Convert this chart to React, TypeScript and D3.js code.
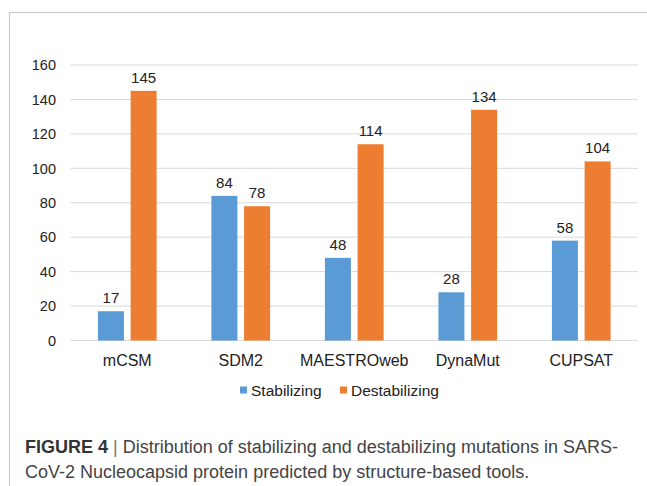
import React from "react";
import * as d3 from "d3";

const categories = ["mCSM", "SDM2", "MAESTROweb", "DynaMut", "CUPSAT"];
const stabilizing = [17, 84, 48, 28, 58];
const destabilizing = [145, 78, 114, 134, 104];
const seriesNames = ["Stabilizing", "Destabilizing"];
const yTicks = [0, 20, 40, 60, 80, 100, 120, 140, 160];
const captionBold = "FIGURE 4";
const captionLine1 = "Distribution of stabilizing and destabilizing mutations in SARS-";
const captionLine2 = "CoV-2 Nucleocapsid protein predicted by structure-based tools.";

const COLORS = ["#5B9BD5", "#ED7D31"];
const FONT = "Liberation Sans, Arial, Helvetica, sans-serif";

export default function App() {
  const W = 647, H = 486;
  const left = 70.5, right = 638, top = 65, bottom = 340.5;
  const x0 = d3.scaleBand<string>().domain(categories).range([left, right]).padding(0);
  const groupW = 58.7;
  const x1 = d3.scaleBand<string>().domain(seriesNames).range([0, groupW]).paddingInner(0.205).paddingOuter(0);
  const y = d3.scaleLinear().domain([0, 160]).range([bottom, top]);
  const series = [stabilizing, destabilizing];

  return (
    <svg width={W} height={H} style={{ position: "absolute", left: 0, top: 0, background: "#fff" }} fontFamily={FONT}>
      <rect x={9.5} y={12.5} width={700} height={600} fill="none" stroke="#c8c8c8" strokeWidth={1.2} />
      {yTicks.map((t) => (
        <g key={t}>
          <line x1={left} x2={right} y1={y(t)} y2={y(t)} stroke="#d9d9d9" strokeWidth={1} />
          <text x={56} y={y(t)} dy="0.36em" textAnchor="end" fontSize={14.5} fill="#222">{t}</text>
        </g>
      ))}
      {categories.map((c, i) => {
        const cx = (x0(c) as number) + x0.bandwidth() / 2;
        const gx = cx - groupW / 2;
        return (
          <g key={c}>
            {seriesNames.map((s, j) => {
              const v = series[j][i];
              const bx = gx + (x1(s) as number);
              return (
                <g key={s}>
                  <rect x={bx} y={y(v)} width={x1.bandwidth()} height={y(0) - y(v)} fill={COLORS[j]} />
                  <text x={bx + x1.bandwidth() / 2} y={y(v) - 8} textAnchor="middle" fontSize={15} fill="#222">{v}</text>
                </g>
              );
            })}
            <text x={cx} y={366} textAnchor="middle" fontSize={16} fill="#222">{c}</text>
          </g>
        );
      })}
      {(() => {
        const items = [
          { x: 240, name: seriesNames[0], color: COLORS[0] },
          { x: 340, name: seriesNames[1], color: COLORS[1] },
        ];
        return items.map((it) => (
          <g key={it.name}>
            <rect x={it.x} y={386.5} width={7} height={7} fill={it.color} />
            <text x={it.x + 11} y={395.5} fontSize={15.5} fill="#222">{it.name}</text>
          </g>
        ));
      })()}
      <text x={25} y={452.5} fontSize={18} fill="#444">
        <tspan fontWeight="bold" fill="#333">{captionBold}</tspan>
        <tspan fill="#777"> | </tspan>
        <tspan>{captionLine1}</tspan>
      </text>
      <text x={25} y={477.5} fontSize={18} fill="#444">{captionLine2}</text>
    </svg>
  );
}
